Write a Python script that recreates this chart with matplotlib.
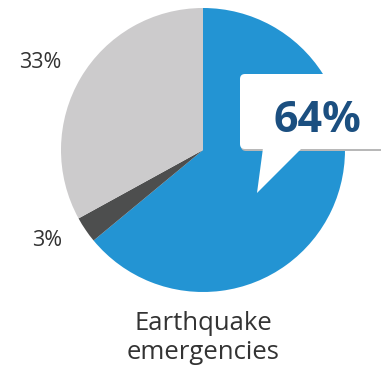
import matplotlib
matplotlib.use("Agg")
import matplotlib.pyplot as plt
from matplotlib.patches import FancyBboxPatch, Polygon

# Share of emergencies by category
categories = ["Earthquake", "Other", "Remaining"]
shares = [64, 3, 33]
colors = ["#2394d3", "#4d4e4e", "#cccbcc"]
labels = ["64%", "3%", "33%"]
title = "Earthquake\nemergencies"

W, H = 381, 372
fig = plt.figure(figsize=(W / 100, H / 100), dpi=100)
ax = fig.add_axes([0, 0, 1, 1])

cx, cy, r = 203, H - 150, 142
ax.pie(shares, colors=colors, startangle=90, counterclock=False,
       center=(cx, cy), radius=r, frame=True,
       wedgeprops=dict(linewidth=0))
ax.set_xlim(0, W)
ax.set_ylim(0, H)
ax.set_aspect("equal")
ax.axis("off")

font = "Open Sans"
txt = "#333333"

# Outside labels for the small slices
ax.text(40, H - 62, labels[2], ha="center", va="center", fontsize=15.5,
        color=txt, family=font)
ax.text(47, H - 240, labels[1], ha="center", va="center", fontsize=15.5,
        color=txt, family=font)

# Speech-bubble callout for the main slice
bx0, by0, bx1, by1 = 240, H - 149, 392, H - 74
shadow = FancyBboxPatch((bx0 + 1, by0 - 2), bx1 - bx0, by1 - by0,
                        boxstyle="round,pad=0,rounding_size=5",
                        fc="#b8b8b8", ec="none", zorder=3)
ax.add_patch(shadow)
box = FancyBboxPatch((bx0, by0), bx1 - bx0, by1 - by0,
                     boxstyle="round,pad=0,rounding_size=5",
                     fc="white", ec="none", zorder=4)
ax.add_patch(box)
tail = Polygon([(263, by0 + 1), (302, by0 + 1), (257, H - 193)],
               closed=True, fc="white", ec="none", zorder=4)
ax.add_patch(tail)
ax.text(317, H - 121, labels[0], ha="center", va="center", fontsize=31,
        fontweight="bold", color="#1b4f80", family=font, zorder=5)

# Caption below the pie
ax.text(cx, H - 338, title, ha="center", va="center", fontsize=18.5,
        color=txt, family=font, linespacing=1.2)

fig.savefig("out.png", dpi=100)
